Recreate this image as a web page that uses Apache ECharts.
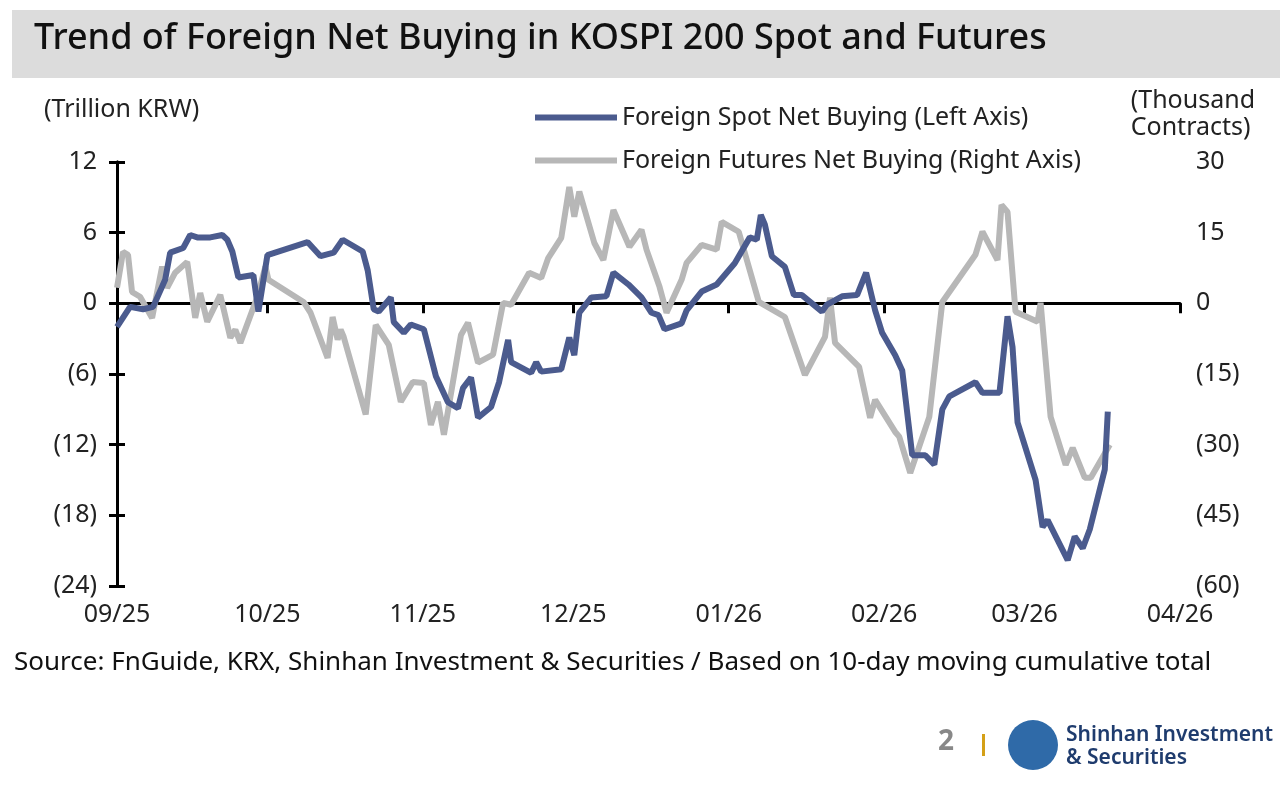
<!DOCTYPE html>
<html>
<head>
<meta charset="utf-8">
<script src="https://cdn.jsdelivr.net/npm/echarts@6/dist/echarts.min.js"></script>
<style>
  body { margin: 0; background: #fff; }
  #chart { width: 1280px; height: 786px; }
</style>
</head>
<body>
<div id="chart"></div>
<script>
// x values are days since 2025-09-01
var monthStarts = [0, 30, 61, 91, 122, 153, 181, 212];
var monthLabels = ['09/25', '10/25', '11/25', '12/25', '01/26', '02/26', '03/26', '04/26'];

// foreign spot net buying, trillion KRW (left axis)
var spotDays = [0, 2.6, 5.2, 7.2, 9.6, 10.6, 13.2, 14.6, 16, 18.6, 21, 22, 23, 24.2, 27.2, 28.2, 30, 38, 40.6, 43.2, 45, 49, 50, 51.2, 52.2, 54.6, 55.2, 57.2, 58.6, 61.2, 63.6, 66, 68, 69, 70.6, 72, 74.6, 76.2, 78, 78.6, 82.6, 83.6, 84.6, 88.6, 90.2, 91.2, 92.2, 94.6, 97.6, 99, 102, 104.6, 106.6, 108, 109.2, 112.6, 113.6, 116.6, 119.6, 123.2, 126.2, 127.6, 128.4, 129.2, 130.6, 133.2, 135, 136.6, 140.6, 141.6, 144.6, 147.6, 149.4, 151.2, 152.6, 155.2, 156.6, 158.6, 161.2, 163, 164.6, 166, 171.2, 172.6, 176, 177.6, 178.6, 179.6, 183.2, 184.6, 185.6, 189.6, 191, 192.6, 194, 197, 197.6];
var spotVals = [-2.0, -0.3, -0.5, -0.3, 2.0, 4.3, 4.7, 5.8, 5.6, 5.6, 5.8, 5.4, 4.4, 2.2, 2.4, -0.7, 4.1, 5.2, 4.0, 4.3, 5.4, 4.4, 2.8, -0.5, -0.7, 0.5, -1.6, -2.5, -1.8, -2.2, -6.2, -8.4, -8.9, -7.2, -6.3, -9.7, -8.8, -6.7, -3.1, -5.0, -5.9, -5.0, -5.8, -5.6, -2.9, -4.4, -0.8, 0.5, 0.6, 2.6, 1.6, 0.5, -0.8, -1.0, -2.2, -1.7, -0.6, 1.0, 1.6, 3.4, 5.6, 5.4, 7.5, 6.7, 4.0, 3.1, 0.7, 0.7, -0.7, -0.1, 0.6, 0.7, 2.6, -0.6, -2.5, -4.4, -5.7, -12.9, -12.9, -13.7, -9.0, -7.9, -6.7, -7.6, -7.6, -1.1, -3.7, -10.1, -15.0, -19.0, -18.4, -21.8, -19.8, -20.8, -19.2, -14.1, -9.2];

// foreign futures net buying, thousand contracts (right axis)
var futDays = [0, 1.2, 2.2, 3, 4.6, 7, 9, 10, 11.6, 14, 15.6, 16.6, 18, 20.6, 22.6, 23.6, 24.6, 28, 29.6, 30.2, 37.2, 38.6, 42, 43, 44, 44.6, 45.2, 49.6, 51.6, 54.2, 56.6, 59, 61.2, 62.6, 64, 65.2, 68.6, 70, 72, 75, 77, 78.6, 82.2, 84.6, 86, 88.6, 90.2, 91.2, 92.2, 95.2, 97, 99, 102.2, 104.6, 105.6, 108.2, 109.6, 112.6, 113.6, 116.6, 119.6, 120.6, 124, 128, 133.2, 137.2, 141.2, 142.2, 143.2, 148, 150.2, 151.2, 155.2, 156, 158.2, 162, 164.6, 171.2, 172.6, 175.6, 176.4, 177.6, 179.2, 183.6, 184.2, 186.2, 189.2, 190.6, 193, 194.2, 198];
var futVals = [3.3, 10.9, 10.3, 2.4, 1.4, -3.1, 7.8, 3.3, 6.5, 8.8, -3.1, 2.2, -3.9, 1.8, -7.3, -5.6, -8.4, 1.4, 7.8, 5.0, 0.3, -2.0, -11.6, -2.9, -7.7, -5.6, -7.1, -23.6, -4.6, -8.8, -20.9, -16.7, -16.9, -25.8, -20.9, -27.9, -6.7, -4.1, -12.6, -10.9, 0.1, -0.3, 6.5, 5.4, 9.6, 13.9, 24.7, 18.4, 23.7, 12.8, 9.2, 19.8, 12.0, 15.6, 11.4, 3.5, -2.0, 5.0, 8.6, 12.4, 11.4, 17.3, 15.2, 0.3, -2.9, -15.2, -7.1, 1.2, -8.4, -13.5, -24.3, -20.5, -27.3, -28.3, -36.0, -24.1, 0.3, 10.3, 15.2, 9.2, 20.9, 19.4, -1.8, -3.9, 0.1, -24.1, -34.3, -30.7, -37.0, -37.0, -30.0];

function zip(xs, ys) { return xs.map((x, i) => [x, ys[i]]); }
function paren(v) { return v < 0 ? '(' + (-v) + ')' : String(v); }

var font = '"Noto Sans", sans-serif';
var chart = echarts.init(document.getElementById('chart'));

var option = {
    animation: false,
    textStyle: { fontFamily: font },
    grid: { left: 117, right: 100, top: 162, bottom: 200 },
    legend: {
        orient: 'vertical', left: 530, top: 100, itemGap: 18,
        itemWidth: 82, itemHeight: 6, icon: 'rect',
        textStyle: { fontSize: 25, color: '#222', fontFamily: font }
    },
    xAxis: [
        {   // zero line with ticks
            type: 'value', min: 0, max: 212,
            axisLine: { onZero: true, lineStyle: { color: '#000', width: 3 } },
            axisTick: { customValues: monthStarts, length: 10, inside: false, lineStyle: { color: '#000', width: 3 } },
            axisLabel: { show: false }, splitLine: { show: false }
        },
        {   // bottom labels
            type: 'value', min: 0, max: 212, position: 'bottom', offset: 0,
            axisLine: { show: false }, axisTick: { show: false }, splitLine: { show: false },
            axisLabel: {
                customValues: monthStarts, fontSize: 25, color: '#222', margin: 16,
                formatter: (v) => monthLabels[monthStarts.indexOf(v)]
            }
        }
    ],
    yAxis: [
        {
            type: 'value', min: -24, max: 12, interval: 6,
            axisLine: { show: true, lineStyle: { color: '#000', width: 3 } },
            axisTick: { show: true, length: 8, lineStyle: { color: '#000', width: 3 } },
            axisLabel: { fontSize: 25, color: '#222', margin: 20, formatter: paren },
            splitLine: { show: false }
        },
        {
            type: 'value', min: -60, max: 30, interval: 15, position: 'right',
            axisLine: { show: true, lineStyle: { color: '#000', width: 3 } },
            axisTick: { show: true, length: 8, lineStyle: { color: '#000', width: 3 } },
            axisLabel: { fontSize: 25, color: '#222', margin: 16, formatter: paren },
            splitLine: { show: false }
        }
    ],
    series: [
        {
            name: 'Foreign Spot Net Buying (Left Axis)', type: 'line', xAxisIndex: 0, yAxisIndex: 0,
            data: zip(spotDays, spotVals), showSymbol: false, z: 3,
            itemStyle: { color: '#4b5b8e' }, lineStyle: { color: '#4b5b8e', width: 6 }
        },
        {
            name: 'Foreign Futures Net Buying (Right Axis)', type: 'line', xAxisIndex: 0, yAxisIndex: 1,
            data: zip(futDays, futVals), showSymbol: false, z: 2,
            itemStyle: { color: '#b7b7b7' }, lineStyle: { color: '#b7b7b7', width: 6 }
        }
    ],
    graphic: [
        { type: 'rect', left: 12, top: 10, shape: { width: 1268, height: 68 }, style: { fill: '#dcdcdc' }, z: -1 },
        { type: 'text', left: 34, top: 21, style: { text: 'Trend of Foreign Net Buying in KOSPI 200 Spot and Futures', font: '500 36px ' + font, fill: '#111' } },
        { type: 'text', left: 44, top: 97, style: { text: '(Trillion KRW)', font: '25px ' + font, fill: '#222' } },
        { type: 'text', right: 25, top: 87, style: { text: '(Thousand\nContracts)', font: '25px ' + font, fill: '#222', align: 'right', lineHeight: 27 } },
        { type: 'text', left: 14, top: 650, style: { text: 'Source: FnGuide, KRX, Shinhan Investment & Securities / Based on 10-day moving cumulative total', font: '26px ' + font, fill: '#111' } },
        { type: 'text', left: 938, top: 728, style: { text: '2', font: 'bold 28px ' + font, fill: '#888' } },
        { type: 'rect', left: 982, top: 734, shape: { width: 3, height: 22 }, style: { fill: '#d4a017' } },
        { type: 'circle', left: 1008, top: 720, shape: { r: 25 }, style: { fill: '#2f6aa8' } },
        { type: 'text', left: 1066, top: 724, style: { text: 'Shinhan Investment\n& Securities', font: '600 21px ' + font, fill: '#1f3c6e', lineHeight: 23 } }
    ]
};
chart.setOption(option);
</script>
</body>
</html>
